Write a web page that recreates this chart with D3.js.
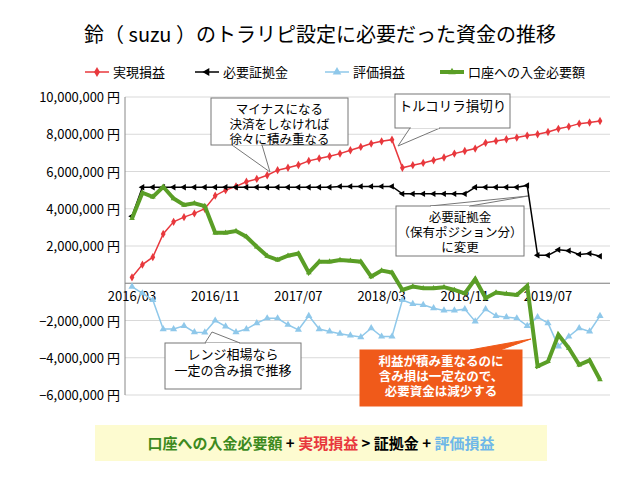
<!DOCTYPE html><html><head><meta charset="utf-8"><script src="https://cdn.jsdelivr.net/npm/d3@7"></script>
<style>body{margin:0;background:#fff}text{font-family:"Noto Sans CJK JP","Noto Sans",sans-serif}</style></head><body><svg id="c" width="640" height="480"></svg><script>
const months=d3.range(46).map(i=>{const m=2+i;return (2016+Math.floor(m/12))+"/"+String(m%12+1).padStart(2,"0");});
const tickLabels=["2016/03","2016/11","2017/07","2018/03","2018/11","2019/07"];
const realized=[0.32,1.0,1.4,2.65,3.3,3.55,3.75,4.0,4.7,5.0,5.2,5.45,5.6,5.8,6.07,6.2,6.35,6.57,6.7,6.82,6.96,7.14,7.32,7.5,7.62,7.71,6.2,6.34,6.46,6.6,6.75,6.96,7.1,7.23,7.54,7.64,7.73,7.82,7.93,8.0,8.12,8.29,8.41,8.57,8.63,8.71];
const margin=[3.6,5.15,5.15,5.15,5.15,5.15,5.15,5.15,5.15,5.15,5.15,5.15,5.15,5.15,5.15,5.15,5.15,5.15,5.15,5.15,5.2,5.2,5.2,5.2,5.2,5.2,4.8,4.8,4.8,4.8,4.8,4.8,4.8,5.15,5.15,5.15,5.15,5.15,5.25,1.5,1.5,1.8,1.75,1.55,1.6,1.45];
const unrealized=[-0.18,-0.54,-0.9,-2.46,-2.46,-2.29,-2.63,-2.64,-2.0,-2.32,-2.63,-2.46,-2.14,-1.88,-1.88,-2.23,-2.5,-1.75,-2.46,-2.59,-2.71,-2.8,-2.89,-2.41,-2.86,-2.86,-0.9,-1.11,-1.16,-1.34,-1.46,-1.46,-1.39,-2.05,-1.39,-1.75,-1.82,-1.88,-2.29,-1.82,-2.14,-3.39,-2.86,-2.41,-2.59,-1.75];
const deposit=[3.48,4.86,4.64,5.18,4.55,4.2,4.29,4.14,2.71,2.71,2.8,2.5,1.96,1.46,1.25,1.48,1.6,0.57,1.16,1.16,1.25,1.21,1.16,0.36,0.68,0.57,-0.36,-0.18,-0.27,-0.27,-0.21,-0.36,-0.54,0.23,-0.8,-0.5,-0.57,-0.63,-0.14,-4.46,-4.2,-2.77,-3.48,-4.38,-4.14,-5.18];
const yTicks=[10,8,6,4,2,0,-2,-4,-6];
const svg=d3.select("#c");
const x=d3.scalePoint().domain(months).range([132,600]);
const y=d3.scaleLinear().domain([-6,10]).range([395,97]);
svg.append("text").attr("x",320).attr("y",42).attr("text-anchor","middle").attr("font-size",20).text("鈴（ suzu ）のトラリピ設定に必要だった資金の推移");
const g=svg.append("g");
g.selectAll("line.gr").data(yTicks).join("line").attr("x1",125).attr("x2",610).attr("y1",d=>y(d)).attr("y2",d=>y(d)).attr("stroke","#d9d9d9");
g.append("line").attr("x1",125).attr("x2",125).attr("y1",97).attr("y2",395).attr("stroke","#888");
g.append("line").attr("x1",125).attr("x2",610).attr("y1",y(0)).attr("y2",y(0)).attr("stroke","#888");
g.selectAll("text.yl").data(yTicks.filter(d=>d!==0)).join("text").attr("x",120).attr("y",d=>y(d)+5).attr("text-anchor","end").attr("font-size",13).attr("font-family","Liberation Sans").text(d=>d3.format(",")(d*1e6)+" 円");
g.selectAll("text.xl").data(tickLabels).join("text").attr("x",d=>x(d)).attr("y",y(0)+18).attr("text-anchor","middle").attr("font-size",13).attr("font-family","Liberation Sans").text(d=>d);
const series=[
 {name:"実現損益",data:realized,color:"#e8383d",w:1.5,sym:d3.symbolDiamond,s:20},
 {name:"必要証拠金",data:margin,color:"#000",w:1.5,sym:d3.symbolTriangle,s:18,rot:-90},
 {name:"評価損益",data:unrealized,color:"#8fc8ea",w:1.5,sym:d3.symbolTriangle,s:22},
 {name:"口座への入金必要額",data:deposit,color:"#5a9e26",w:4,sym:d3.symbolTriangle,s:14}];
const line=d3.line().x((d,i)=>x(months[i])).y(d=>y(d));
series.forEach(s=>{
 g.append("path").attr("d",line(s.data)).attr("fill","none").attr("stroke",s.color).attr("stroke-width",s.w);
 g.selectAll(null).data(s.data).join("path").attr("d",d3.symbol(s.sym,s.s)).attr("fill",s.color)
  .attr("transform",(d,i)=>`translate(${x(months[i])},${y(d)}) rotate(${s.rot||0})`);
});
const lx=[85,195,325,440];
series.forEach((s,i)=>{
 const L=svg.append("g").attr("transform",`translate(${lx[i]},72)`);
 L.append("line").attr("x1",0).attr("x2",24).attr("stroke",s.color).attr("stroke-width",s.w);
 L.append("path").attr("d",d3.symbol(s.sym,s.s+10)).attr("fill",s.color).attr("transform",`translate(12,0) rotate(${s.rot||0})`);
 L.append("text").attr("x",28).attr("y",5).attr("font-size",13).text(s.name);
});
function callout(bx,by,bw,bh,lines,px,py,ax1,ax2,opt={}){
 const a=svg.append("g");
 const ay=opt.top?by:by+bh;
 a.append("path").attr("d",`M${ax1},${ay} L${px},${py} L${ax2},${ay}`).attr("fill",opt.fill||"#fff").attr("stroke",opt.stroke||"#777");
 a.append("rect").attr("x",bx).attr("y",by).attr("width",bw).attr("height",bh).attr("fill",opt.fill||"#fff").attr("stroke",opt.stroke||"#777");
 a.append("rect").attr("x",Math.min(ax1,ax2)+1).attr("y",opt.top?by:by+bh-1.5).attr("width",Math.abs(ax2-ax1)-2).attr("height",2).attr("fill",opt.fill||"#fff");
 const fs=opt.fs||12.5;
 lines.forEach((t,i)=>a.append("text").attr("x",bx+bw/2).attr("y",by+fs+3+i*(fs+2.5)).attr("text-anchor","middle").attr("font-size",fs).attr("fill",opt.color||"#000").attr("font-weight",opt.bold?"bold":null).text(t));
}
callout(211,98,137,47,["マイナスになる","決済をしなければ","徐々に積み重なる"],270,172,232,262);
callout(395,94,115,34,["トルコリラ損切り"],398,146,410,440,{fs:13.5});
callout(396,206,128,50,["必要証拠金","（保有ポジション分）","に変更"],528,196,430,470,{top:true});
callout(165,343,136,46,["レンジ相場なら","一定の含み損で推移"],212,332,205,240,{top:true,fs:13});
callout(360,350,162,56,["利益が積み重なるのに","含み損は一定なので、","必要資金は減少する"],531,339,470,500,{top:true,fill:"#f05a1a",stroke:"#f05a1a",color:"#fff",bold:true,fs:12.5});
svg.append("rect").attr("x",95).attr("y",425).attr("width",452).attr("height",36).attr("fill","#fdfbd0");
const bt=svg.append("text").attr("x",321).attr("y",449).attr("text-anchor","middle").attr("font-size",15).attr("font-weight","bold");
[["口座への入金必要額","#3d8a1e"],[" + ","#000"],["実現損益","#e8383d"],[" > ","#000"],["証拠金","#000"],[" + ","#000"],["評価損益","#6fb8e8"]].forEach(([t,c])=>bt.append("tspan").attr("fill",c).text(t));
</script></body></html>
